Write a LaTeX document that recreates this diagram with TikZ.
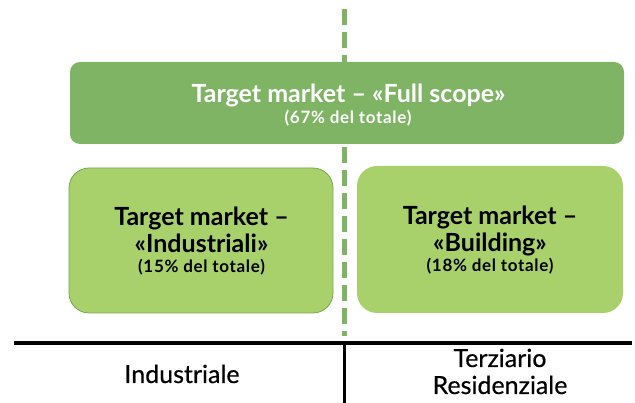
\documentclass[tikz,border=0pt]{standalone}
\usepackage{fontspec}
\setmainfont{Lato}
\newfontfamily\subf[LetterSpace=4]{Lato}
\newfontfamily\medf[FakeBold=0.5]{Lato}
\definecolor{dgreen}{HTML}{7EB464}
\definecolor{lgreen}{HTML}{A9D16B}
\definecolor{bgreen}{HTML}{74A84E}
\tikzset{
  bigbox/.style={fill=dgreen, draw=none, rounded corners=10pt, inner sep=0pt},
  smallbox/.style={fill=lgreen, rounded corners=20pt, inner sep=0pt},
  ttl/.style={anchor=base, inner sep=0pt, font=\fontsize{25}{30}\selectfont\bfseries},
  sub/.style={anchor=base, inner sep=0pt, font=\fontsize{17}{20}\selectfont\subf\bfseries},
  lab/.style={anchor=base, inner sep=0pt, font=\fontsize{25}{30}\selectfont\medf}
}
\begin{document}
\begin{tikzpicture}[x=1pt,y=-1pt]
\useasboundingbox (0,0) rectangle (635,403);
\coordinate (dt) at (344.5,9);
\coordinate (db) at (344.5,336);
\draw[dgreen, line width=5.5pt, dash pattern=on 16pt off 7pt] (dt) -- (db);
\node[bigbox, minimum width=554pt, minimum height=82pt] (top) at (347,103) {};
\node[ttl, text=white] (tt) at (348.5,103) {Target market – «Full scope»};
\node[sub, text=white] (ts) at (348,124) {(67\% del totale)};
\node[smallbox, draw=bgreen, line width=0.8pt, minimum width=264pt, minimum height=145pt] (L) at (201,240.5) {};
\node[smallbox, minimum width=266pt, minimum height=147pt] (R) at (490,239.5) {};
\node[ttl] (Lt1) at (201.5,226) {Target market –};
\node[ttl] (Lt2) at (201.5,253) {«Industriali»};
\node[sub] (Ls) at (201.5,273) {(15\% del totale)};
\node[ttl] (Rt1) at (490,225) {Target market –};
\node[ttl] (Rt2) at (490,252) {«Building»};
\node[sub] (Rs) at (490,272) {(18\% del totale)};
\coordinate (hl) at (14,343);
\coordinate (hr) at (632,343);
\coordinate (vt) at (344,343);
\coordinate (vb) at (344,403);
\draw[black, line width=3.5pt] (hl) -- (hr);
\draw[black, line width=3pt] (vt) -- (vb);
\node[lab] (ind) at (182,383) {Industriale};
\node[lab] (ter) at (500,367) {Terziario};
\node[lab] (res) at (500,394) {Residenziale};
\end{tikzpicture}
\end{document}
